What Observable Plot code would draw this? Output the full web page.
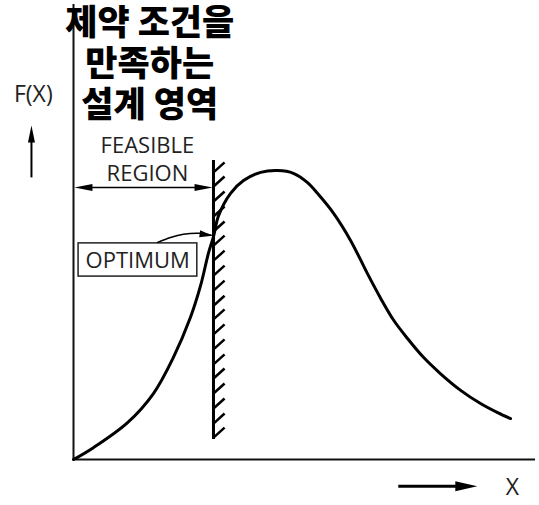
<!DOCTYPE html>
<html>
<head>
<meta charset="utf-8">
<script src="https://cdn.jsdelivr.net/npm/d3@7"></script>
<script src="https://cdn.jsdelivr.net/npm/@observablehq/plot@0.6"></script>
<style>
  html, body { margin: 0; padding: 0; background: #fff; }
  #chart svg { display: block; }
</style>
</head>
<body>
<div id="chart"></div>
<script>
// Objective function F(X) (x, F)
const curveX = [0, 0.43, 1.17, 1.73, 2.16, 2.53, 2.75, 2.92, 3.03, 3.14, 3.40, 3.68, 4.05, 4.42, 4.76, 5.06, 5.28, 5.63, 6.00, 6.36, 6.65, 6.93, 7.23, 7.58, 7.94, 8.38, 8.81, 9.18, 9.46];
const curveF = [0, 0.26, 0.81, 1.45, 2.24, 3.12, 3.82, 4.53, 4.90, 5.36, 5.85, 6.13, 6.31, 6.35, 6.29, 6.09, 5.85, 5.41, 4.81, 4.09, 3.54, 3.06, 2.66, 2.24, 1.89, 1.52, 1.23, 1.03, 0.90];

// Constraint wall
const wallX = 3.03;
const wallY = [0.44, 6.57];
const hatchY = [0.48, 0.79, 1.12, 1.45, 1.78, 2.09, 2.42, 2.75, 3.08, 3.38, 3.71, 4.04, 4.37, 4.70, 5.01, 5.34, 5.67, 6.00, 6.31];

// Optimum pointer path
const optArrowX = [1.82, 2.10, 2.38, 2.75, 2.98];
const optArrowY = [4.77, 4.88, 4.95, 4.97, 4.93];

// Labels
const titleLines = ["제약 조건을", "만족하는", "설계 영역"];
const titleY = [9.57, 8.68, 7.77];
const feasibleLines = ["FEASIBLE", "REGION"];
const feasibleY = [6.89, 6.27];
const optimumLabel = "OPTIMUM";
const yLabel = "F(X)";
const xLabel = "X";

const curve = curveX.map((x, i) => ({x, y: curveF[i]}));
const optPath = optArrowX.map((x, i) => ({x, y: optArrowY[i]}));

function head(L, W) {
  return {draw(ctx) { ctx.moveTo(0, 0); ctx.lineTo(-L, -W / 2); ctx.lineTo(-L, W / 2); ctx.closePath(); }};
}

const chart = Plot.plot({
  width: 539,
  height: 505,
  marginLeft: 73,
  marginRight: 4,
  marginTop: 4,
  marginBottom: 46,
  x: {domain: [0, 10], axis: null},
  y: {domain: [0, 10], axis: null},
  style: {background: "#fff", color: "#000"},
  marks: [
    // axes
    Plot.ruleX([0], {y1: 0, y2: 10, stroke: "#111", strokeWidth: 2}),
    Plot.ruleY([0], {x1: 0, x2: 10, stroke: "#111", strokeWidth: 2}),
    // wall + hatching
    Plot.ruleX([wallX], {y1: wallY[0], y2: wallY[1], stroke: "#000", strokeWidth: 3}),
    Plot.link(hatchY, {x1: () => wallX, y1: d => d, x2: () => wallX + 0.24, y2: d => d + 0.22, stroke: "#000", strokeWidth: 2.5}),
    // objective curve
    Plot.line(curve, {x: "x", y: "y", curve: "catmull-rom", stroke: "#000", strokeWidth: 3}),
    // feasible region double arrow
    Plot.link([0], {x1: 0.2, x2: wallX - 0.2, y1: 5.98, y2: 5.98, stroke: "#000", strokeWidth: 1.5}),
    Plot.dot([{x: 0.02, y: 5.98, r: 180}, {x: wallX - 0.02, y: 5.98, r: 0}], {x: "x", y: "y", rotate: "r", symbol: head(18, 7), fill: "#000", stroke: null}),
    Plot.text(feasibleLines, {x: 1.60, y: (d, i) => feasibleY[i], text: d => d, fontSize: 22, fontFamily: "Open Sans", fill: "#222"}),
    // optimum box + pointer
    Plot.rect([0], {x1: 0.11, x2: 2.68, y1: 4.02, y2: 4.75, fill: "none", stroke: "#222", strokeWidth: 1.5}),
    Plot.text([optimumLabel], {x: 1.39, y: 4.37, text: d => d, fontSize: 22, fontFamily: "Open Sans", fill: "#222"}),
    Plot.line(optPath, {x: "x", y: "y", curve: "catmull-rom", stroke: "#000", strokeWidth: 1.5}),
    Plot.dot([{x: 3.01, y: 4.92}], {x: "x", y: "y", rotate: 8, symbol: head(13, 7), fill: "#000", stroke: null}),
    // F(X) axis label + up arrow
    Plot.text([yLabel], {x: -0.87, y: 8.02, text: d => d, fontSize: 23, fontFamily: "Open Sans", fill: "#222"}),
    Plot.link([0], {x1: -0.91, x2: -0.91, y1: 6.20, y2: 7.1, stroke: "#000", strokeWidth: 2}),
    Plot.dot([{x: -0.91, y: 7.34}], {x: "x", y: "y", rotate: -90, symbol: head(17, 7), fill: "#000", stroke: null}),
    // X axis label + right arrow
    Plot.text([xLabel], {x: 9.50, y: -0.62, text: d => d, fontSize: 23, fontFamily: "Open Sans", fill: "#222"}),
    Plot.link([0], {x1: 7.03, x2: 8.4, y1: -0.59, y2: -0.59, stroke: "#000", strokeWidth: 3}),
    Plot.dot([{x: 8.74, y: -0.59}], {x: "x", y: "y", rotate: 0, symbol: head(22, 10), fill: "#000", stroke: null}),
    // Korean title
    Plot.text(titleLines, {x: 1.65, y: (d, i) => titleY[i], text: d => d, fontSize: 35, fontWeight: 900, fontFamily: "Noto Sans CJK KR", fill: "#000"})
  ]
});
document.getElementById("chart").appendChild(chart);
</script>
</body>
</html>
